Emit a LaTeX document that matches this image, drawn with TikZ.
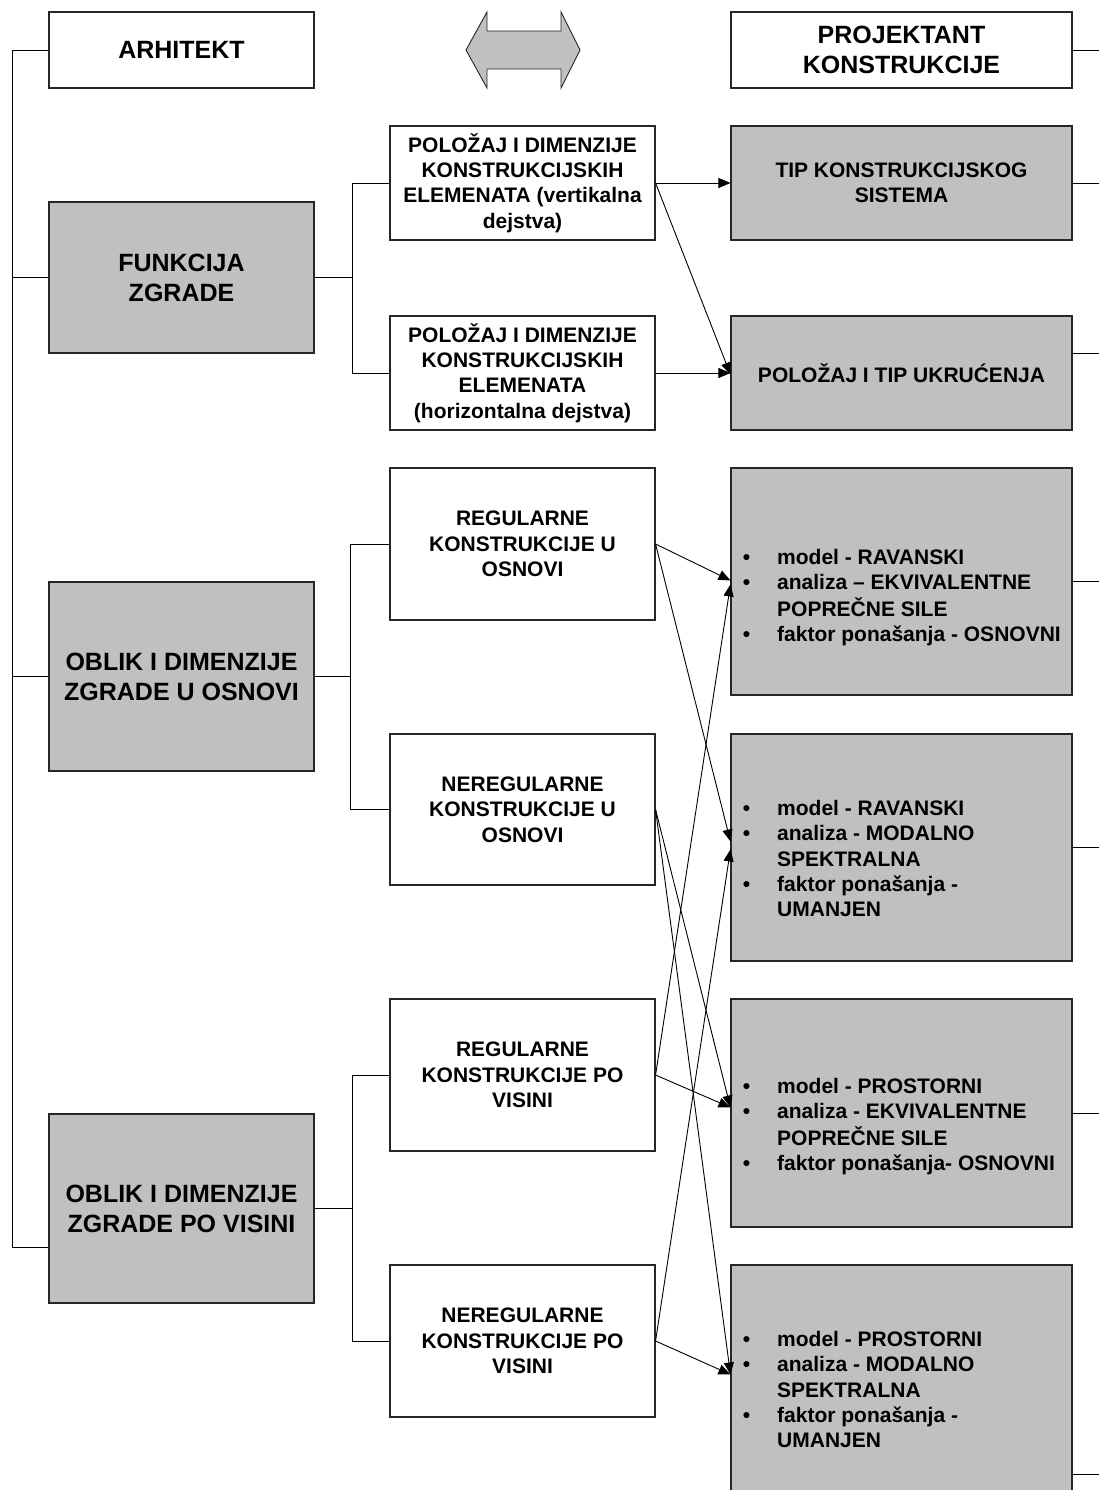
\documentclass[tikz,border=0pt]{standalone}
\usepackage{fontspec}
\setmainfont{Liberation Sans}
\usetikzlibrary{arrows.meta,calc}
\definecolor{boxgray}{HTML}{C0C0C0}
\begin{document}
\begin{tikzpicture}[x=1pt,y=-1pt,
  box/.style={draw=black!85, line width=1.1pt, inner sep=0pt, align=center,
    font=\bfseries\fontsize{21}{25.3}\selectfont},
  wbox/.style={box, fill=white},
  gbox/.style={box, fill=boxgray},
  big/.style={font=\bfseries\fontsize{25}{30}\selectfont},
  c1/.style={minimum width=265pt},
  c2/.style={minimum width=265pt},
  c3/.style={minimum width=341pt},
  conn/.style={line width=0.9pt},
  arr/.style={conn, -{Triangle[length=12pt,width=10pt]}},
  blist/.style={inner sep=0pt, anchor=base west, align=left,
    font=\bfseries\fontsize{21}{25.3}\selectfont},
]
\clip (0,0) rectangle (1099,1490);
\fill[white] (0,0) rectangle (1099,1490);

% column 1
\node[wbox, big, c1, minimum height=76pt] (arh) at (181.5,50) {ARHITEKT};
\node[gbox, big, c1, minimum height=151pt] (funk) at (181.5,277.5) {FUNKCIJA\\ZGRADE};
\node[gbox, big, c1, minimum height=189pt] (osn) at (181.5,676.5) {OBLIK I DIMENZIJE\\ZGRADE U OSNOVI};
\node[gbox, big, c1, minimum height=189pt] (vis) at (181.5,1208.5) {OBLIK I DIMENZIJE\\ZGRADE PO VISINI};

% double arrow
\filldraw[fill=boxgray, draw=black!85, line width=0.9pt]
  (466,50) -- (487,12) -- (487,31) -- (561,31) -- (561,12) -- (580,50)
  -- (561,88) -- (561,69) -- (487,69) -- (487,88) -- cycle;

% column 2
\node[wbox, c2, minimum height=114pt] (vert) at (522.5,183) {POLOŽAJ I DIMENZIJE\\KONSTRUKCIJSKIH\\ELEMENATA (vertikalna\\dejstva)};
\node[wbox, c2, minimum height=114pt] (horiz) at (522.5,373) {POLOŽAJ I DIMENZIJE\\KONSTRUKCIJSKIH\\ELEMENATA\\(horizontalna dejstva)};
\node[wbox, c2, minimum height=152pt] (rego) at (522.5,544) {REGULARNE\\KONSTRUKCIJE U\\OSNOVI};
\node[wbox, c2, minimum height=151pt] (nerego) at (522.5,809.5) {NEREGULARNE\\KONSTRUKCIJE U\\OSNOVI};
\node[wbox, c2, minimum height=152pt] (regv) at (522.5,1075) {REGULARNE\\KONSTRUKCIJE PO\\VISINI};
\node[wbox, c2, minimum height=152pt] (neregv) at (522.5,1341) {NEREGULARNE\\KONSTRUKCIJE PO\\VISINI};

% column 3
\node[wbox, big, c3, minimum height=76pt] (proj) at (901.5,50) {PROJEKTANT\\KONSTRUKCIJE};
\node[gbox, c3, minimum height=114pt] (tip) at (901.5,183) {TIP KONSTRUKCIJSKOG\\SISTEMA};
\node[gbox, c3, minimum height=114pt] (ukr) at (901.5,373) {POLOŽAJ I TIP UKRUĆENJA};
\node[gbox, c3, minimum height=227pt] (b1) at (901.5,581.5) {};
\node[gbox, c3, minimum height=227pt] (b2) at (901.5,847.5) {};
\node[gbox, c3, minimum height=228pt] (b3) at (901.5,1113) {};
\node[gbox, c3, minimum height=235pt] (b4) at (901.5,1382.5) {};

\node[blist] (t1) at (777,564.5) {\begin{tabular}[t]{@{}l@{}}
\llap{\textbullet\hspace{27pt}}model - RAVANSKI\\
\llap{\textbullet\hspace{27pt}}analiza – EKVIVALENTNE\\
POPREČNE SILE\\
\llap{\textbullet\hspace{27pt}}faktor ponašanja - OSNOVNI
\end{tabular}};
\node[blist] (t2) at (777,815.5) {\begin{tabular}[t]{@{}l@{}}
\llap{\textbullet\hspace{27pt}}model - RAVANSKI\\
\llap{\textbullet\hspace{27pt}}analiza - MODALNO\\
SPEKTRALNA\\
\llap{\textbullet\hspace{27pt}}faktor ponašanja -\\
UMANJEN
\end{tabular}};
\node[blist] (t3) at (777,1093.5) {\begin{tabular}[t]{@{}l@{}}
\llap{\textbullet\hspace{27pt}}model - PROSTORNI\\
\llap{\textbullet\hspace{27pt}}analiza - EKVIVALENTNE\\
POPREČNE SILE\\
\llap{\textbullet\hspace{27pt}}faktor ponašanja- OSNOVNI
\end{tabular}};
\node[blist] (t4) at (777,1346.5) {\begin{tabular}[t]{@{}l@{}}
\llap{\textbullet\hspace{27pt}}model - PROSTORNI\\
\llap{\textbullet\hspace{27pt}}analiza - MODALNO\\
SPEKTRALNA\\
\llap{\textbullet\hspace{27pt}}faktor ponašanja -\\
UMANJEN
\end{tabular}};

% left bracket
\coordinate (lt) at (12,50);
\coordinate (lb) at (12,1247);
\draw[conn] (arh.west) -- (lt) -- (lb) -- (vis.west |- lb);
\draw[conn] (funk.west) -- (funk.west -| lt);
\draw[conn] (osn.west) -- (osn.west -| lt);

% col1 -> col2 brackets
\coordinate (bf) at (352,0);
\coordinate (bo) at (350,0);
\coordinate (bv) at (352,0);
\draw[conn] (vert.west) -- (vert.west -| bf) -- (horiz.west -| bf) -- (horiz.west);
\draw[conn] (funk.east) -- (funk.east -| bf);
\draw[conn] (rego.west) -- (rego.west -| bo) -- (nerego.west -| bo) -- (nerego.west);
\draw[conn] (osn.east) -- (osn.east -| bo);
\draw[conn] (regv.west) -- (regv.west -| bv) -- (neregv.west -| bv) -- (neregv.west);
\draw[conn] (vis.east) -- (vis.east -| bv);

% right edge lines
\coordinate (re) at (1099,0);
\coordinate (ukrr) at ($(ukr.north east)+(0,38)$);
\coordinate (b4r) at ($(b4.north east)+(0,210)$);
\draw[conn] (proj.east) -- (proj.east -| re);
\draw[conn] (tip.east) -- (tip.east -| re);
\draw[conn] (ukrr) -- (ukrr -| re);
\draw[conn] (b1.east) -- (b1.east -| re);
\draw[conn] (b2.east) -- (b2.east -| re);
\draw[conn] (b3.east) -- (b3.east -| re);
\draw[conn] (b4r) -- (b4r -| re);

% arrows
\draw[arr] (vert.east) -- (tip.west);
\draw[arr] (vert.east) -- ($(ukr.north west)+(0,59)$);
\draw[arr] (horiz.east) -- (ukr.west);
\draw[arr] (rego.east) -- ($(b1.north west)+(0,113)$);
\draw[arr] (rego.east) -- ($(b2.north west)+(0,108)$);
\draw[arr] (nerego.east) -- ($(b3.north west)+(0,109)$);
\draw[arr] (nerego.east) -- ($(b4.north west)+(0,110)$);
\draw[arr] (regv.east) -- ($(b1.north west)+(0,117)$);
\draw[arr] (regv.east) -- ($(b3.north west)+(0,109)$);
\draw[arr] (neregv.east) -- ($(b2.north west)+(0,116)$);
\draw[arr] (neregv.east) -- ($(b4.north west)+(0,110)$);
\end{tikzpicture}
\end{document}
